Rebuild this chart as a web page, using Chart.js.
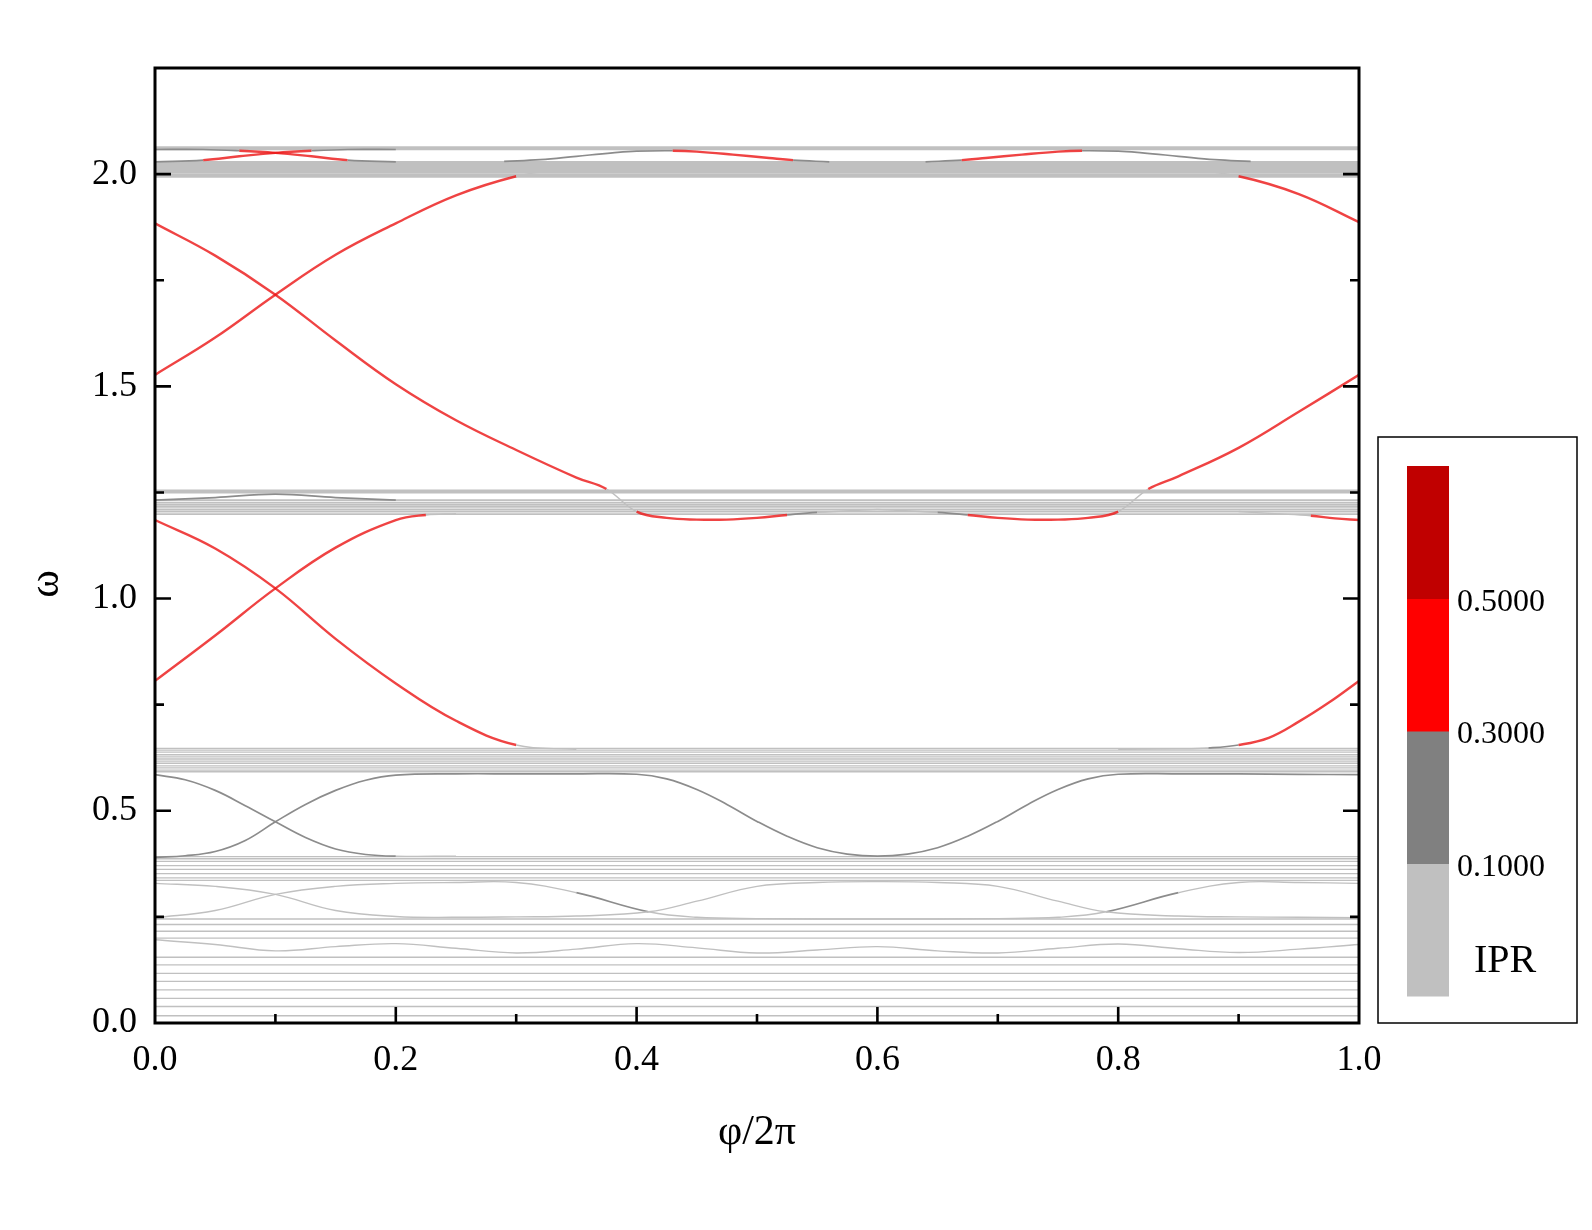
<!DOCTYPE html>
<html><head><meta charset="utf-8">
<script src="https://cdn.jsdelivr.net/npm/chart.js@4.4.1/dist/chart.umd.min.js"></script>
<style>html,body{margin:0;padding:0;background:#fff}canvas{display:block}</style>
</head><body>
<canvas id="c" width="1592" height="1230"></canvas>
<script>
// ---------------- data ----------------
const xTickLabels = ['0.0','0.2','0.4','0.6','0.8','1.0'];
const yTickLabels = ['0.0','0.5','1.0','1.5','2.0'];

// flat band levels (omega)
const thickLevels   = [2.061, 1.996, 1.252];
const topBandLevels = [2.028, 2.024, 2.020, 2.016, 2.012, 2.008, 2.004];
const band12Levels  = [1.232, 1.226, 1.221, 1.216, 1.210, 1.205, 1.199];
const band06Levels  = [0.647, 0.643, 0.638, 0.632, 0.627, 0.622, 0.617, 0.612, 0.606, 0.601, 0.596, 0.592];
const band04Levels  = [0.392, 0.387, 0.381, 0.371, 0.362, 0.352, 0.342, 0.336];
const lowBandLevels = [0.245, 0.232, 0.216, 0.200, 0.155, 0.137, 0.117, 0.098, 0.078, 0.058, 0.039, 0.017];

// IPR colour bar
const iprBounds = [0.1, 0.3, 0.5];
const iprLabels = ['0.1000', '0.3000', '0.5000'];
const iprColors = ['#C0C0C0', '#808080', '#FF0000', '#C00000'];

// curves: x, omega, IPR (IPR of segment starting at each point)
const curveA_x = [0,0.05,0.1,0.15,0.2,0.25,0.3,0.35,0.375,0.4,0.425,0.45,0.475,0.5,0.525,0.55,0.6];
const curveA_y = [1.884,1.808,1.716,1.608,1.505,1.420,1.350,1.285,1.258,1.205,1.190,1.186,1.186,1.190,1.197,1.203,1.210];
const curveA_i = [.4,.4,.4,.4,.4,.4,.4,.4,.05,.4,.4,.4,.4,.4,.2,.05,.05];

const curveC_x = [0.6,0.65,0.675,0.7,0.725,0.75,0.775,0.8,0.825,0.85,0.9,0.95,1.0];
const curveC_y = [1.210,1.203,1.197,1.190,1.186,1.186,1.190,1.205,1.258,1.288,1.355,1.440,1.527];
const curveC_i = [.05,.2,.4,.4,.4,.4,.4,.05,.4,.4,.4,.4,.4];

const curveB_x = [0,0.05,0.1,0.15,0.2,0.25,0.3,0.33];
const curveB_y = [1.527,1.615,1.716,1.810,1.884,1.950,1.995,2.008];
const curveB_i = [.4,.4,.4,.4,.4,.4,.05,.05];

const curveD_x = [0.85,0.9,0.95,1.0];
const curveD_y = [2.015,1.995,1.953,1.887];
const curveD_i = [.05,.4,.4,.4];

const topX1_x = [0,0.04,0.07,0.1,0.13,0.16,0.2];
const topX1_y = [2.058,2.058,2.055,2.050,2.042,2.033,2.029];
const topX1_i = [.2,.2,.4,.4,.4,.2,.2];
const topX2_x = [0,0.04,0.07,0.1,0.13,0.16,0.2];
const topX2_y = [2.029,2.033,2.042,2.050,2.055,2.058,2.058];
const topX2_i = [.2,.4,.4,.4,.2,.2,.2];

const hump1_x = [0.29,0.32,0.35,0.38,0.40,0.43,0.45,0.48,0.51,0.53,0.56];
const hump1_y = [2.030,2.034,2.042,2.050,2.054,2.055,2.053,2.046,2.038,2.033,2.029];
const hump1_i = [.2,.2,.2,.2,.2,.4,.4,.4,.4,.2,.2];
const hump2_x = [0.64,0.67,0.69,0.72,0.75,0.77,0.80,0.82,0.85,0.88,0.91];
const hump2_y = [2.029,2.033,2.038,2.046,2.053,2.055,2.054,2.050,2.042,2.034,2.030];
const hump2_i = [.2,.4,.4,.4,.4,.2,.2,.2,.2,.2,.2];

const curveE_x = [0,0.05,0.1,0.15,0.2,0.25,0.3,0.35];
const curveE_y = [1.185,1.118,1.024,0.905,0.800,0.712,0.655,0.645];
const curveE_i = [.4,.4,.4,.4,.4,.4,.05,.05];
const curveE2_x = [0.9,0.93,0.96,0.98,1.0];
const curveE2_y = [1.205,1.200,1.195,1.189,1.185];
const curveE2_i = [.05,.05,.4,.4,.4];

const curveF_x = [0,0.05,0.1,0.15,0.2,0.225,0.25];
const curveF_y = [0.806,0.913,1.024,1.120,1.185,1.197,1.200];
const curveF_i = [.4,.4,.4,.4,.4,.05,.05];
const curveF2_x = [0.8,0.85,0.875,0.9,0.925,0.95,0.975,1.0];
const curveF2_y = [0.645,0.646,0.648,0.655,0.672,0.710,0.755,0.806];
const curveF2_i = [.05,.05,.2,.4,.4,.4,.4,.4];

const humpJ_x = [0,0.05,0.1,0.15,0.2];
const humpJ_y = [1.232,1.238,1.246,1.238,1.232];
const humpJ_i = [.2,.2,.2,.2,.2];

const curveG_x = [0,0.025,0.05,0.075,0.1,0.125,0.15,0.175,0.2,0.25];
const curveG_y = [0.585,0.573,0.548,0.512,0.474,0.437,0.410,0.397,0.393,0.393];
const curveG_i = [.2,.2,.2,.2,.2,.2,.2,.2,.05,.05];

const curveH_x = [0,0.025,0.05,0.075,0.1,0.125,0.15,0.175,0.2,0.25,0.3,0.35,0.4,0.425,0.45,0.475,0.5,0.525,0.55,0.575,0.6,0.625,0.65,0.675,0.7,0.725,0.75,0.775,0.8,0.85,0.9,0.95,1.0];
const curveH_y = [0.390,0.394,0.404,0.430,0.474,0.515,0.548,0.572,0.584,0.587,0.587,0.587,0.586,0.575,0.550,0.515,0.475,0.440,0.413,0.398,0.393,0.398,0.413,0.440,0.475,0.515,0.550,0.575,0.586,0.587,0.587,0.586,0.585];
const curveH_i = [.2,.2,.2,.2,.2,.2,.2,.2,.2,.2,.2,.2,.2,.2,.2,.2,.2,.2,.2,.2,.2,.2,.2,.2,.2,.2,.2,.2,.2,.2,.2,.2,.2];

const curveU1_x = [0,0.05,0.1,0.15,0.2,0.25,0.3,0.35,0.41,0.45,0.5,0.55,0.6,0.65,0.7,0.75,0.79,0.85,0.9,0.95,1.0];
const curveU1_y = [0.329,0.322,0.303,0.265,0.251,0.249,0.250,0.252,0.262,0.287,0.322,0.331,0.333,0.331,0.322,0.287,0.262,0.252,0.250,0.249,0.248];
const curveU1_i = [.05,.05,.05,.05,.05,.05,.05,.05,.05,.05,.05,.05,.05,.05,.05,.05,.05,.05,.05,.05,.05];

const curveU2_x = [0,0.05,0.1,0.15,0.2,0.25,0.3,0.35,0.41,0.45,0.5,0.6,0.7,0.75,0.79,0.85,0.9,0.95,1.0];
const curveU2_y = [0.248,0.265,0.303,0.322,0.329,0.331,0.331,0.307,0.262,0.249,0.246,0.245,0.246,0.249,0.262,0.307,0.331,0.331,0.329];
const curveU2_i = [.05,.05,.05,.05,.05,.05,.05,.2,.05,.05,.05,.05,.05,.05,.2,.05,.05,.05,.05];

const wiggle_x = [0,0.05,0.1,0.15,0.2,0.25,0.3,0.35,0.4,0.45,0.5,0.55,0.6,0.65,0.7,0.75,0.8,0.85,0.9,0.95,1.0];
const wiggle_y = [0.196,0.185,0.170,0.180,0.187,0.176,0.165,0.174,0.187,0.177,0.165,0.172,0.180,0.170,0.165,0.176,0.186,0.175,0.166,0.174,0.185];
const wiggle_i = [.05,.05,.05,.05,.05,.05,.05,.05,.05,.05,.05,.05,.05,.05,.05,.05,.05,.05,.05,.05,.05];

// ---------------- helpers ----------------
const strokeColors = ['#C0C0C0', '#8C8C8C', 'rgba(235,20,20,0.8)', '#C00000'];
const strokeWidths = [1.4, 1.7, 2.4, 2.4];
function iprClass(v){ let k = 0; for (const b of iprBounds) if (v >= b) k++; return k; }

const datasets = [];
function addCurve(xs, ys, ipr, order){
  datasets.push({
    data: xs.map((x,i)=>({x, y: ys[i]})),
    borderColor: strokeColors[iprClass(ipr[0])],
    borderWidth: strokeWidths[iprClass(ipr[0])],
    segment: {
      borderColor: c => strokeColors[iprClass(ipr[c.p0DataIndex])],
      borderWidth: c => strokeWidths[iprClass(ipr[c.p0DataIndex])]
    },
    tension: 0.4,
    pointRadius: 0, fill: false, order: order
  });
}
function addLevels(levels, width, order){
  for (const v of levels) datasets.push({
    data: [{x:0, y:v}, {x:1, y:v}],
    borderColor: '#C0C0C0', borderWidth: width,
    pointRadius: 0, fill: false, order: order
  });
}

addCurve(curveA_x, curveA_y, curveA_i, 1);
addCurve(curveB_x, curveB_y, curveB_i, 1);
addCurve(curveC_x, curveC_y, curveC_i, 1);
addCurve(curveD_x, curveD_y, curveD_i, 1);
addCurve(curveE_x, curveE_y, curveE_i, 1);
addCurve(curveE2_x, curveE2_y, curveE2_i, 1);
addCurve(curveF_x, curveF_y, curveF_i, 1);
addCurve(curveF2_x, curveF2_y, curveF2_i, 1);
addCurve(topX1_x, topX1_y, topX1_i, 1);
addCurve(topX2_x, topX2_y, topX2_i, 1);
addCurve(hump1_x, hump1_y, hump1_i, 1);
addCurve(hump2_x, hump2_y, hump2_i, 1);
addCurve(humpJ_x, humpJ_y, humpJ_i, 2);
addCurve(curveG_x, curveG_y, curveG_i, 2);
addCurve(curveH_x, curveH_y, curveH_i, 2);
addCurve(curveU1_x, curveU1_y, curveU1_i, 3);
addCurve(curveU2_x, curveU2_y, curveU2_i, 3);
addCurve(wiggle_x, wiggle_y, wiggle_i, 3);
addLevels(thickLevels, 4, 5);
addLevels(topBandLevels, 2.6, 6);
addLevels(band12Levels, 1.9, 6);
addLevels(band06Levels, 1.3, 6);
addLevels(band04Levels, 1.3, 6);
addLevels(lowBandLevels, 1.4, 6);

// ---------------- plugins ----------------
const FONT = '"Liberation Serif", "Times New Roman", serif';
const framePlugin = {
  id: 'frame',
  afterDraw(chart){
    const {ctx, chartArea: a, scales: {x, y}} = chart;
    ctx.save();
    ctx.strokeStyle = '#000';
    ctx.lineWidth = 3;
    ctx.strokeRect(a.left, a.top, a.right - a.left, a.bottom - a.top);
    ctx.lineWidth = 2.6;
    const MAJ = 16, MIN = 9;
    const yv = y.ticks.map(t => t.value);
    const ystep = yv[1] - yv[0];
    const yMinor = [];
    for (let v = yv[0] + ystep/2; v < y.max - 1e-9; v += ystep) yMinor.push(v);
    const xv = x.ticks.map(t => t.value);
    const xstep = xv[1] - xv[0];
    const xMinor = [];
    for (let v = xv[0] + xstep/2; v < x.max - 1e-9; v += xstep) xMinor.push(v);
    ctx.beginPath();
    const yT = (v, L) => { const p = y.getPixelForValue(v);
      ctx.moveTo(a.left, p); ctx.lineTo(a.left + L, p);
      ctx.moveTo(a.right, p); ctx.lineTo(a.right - L, p); };
    yv.forEach(v => { if (v > y.min && v < y.max) yT(v, MAJ); });
    yMinor.forEach(v => yT(v, MIN));
    const xT = (v, L) => { const p = x.getPixelForValue(v);
      ctx.moveTo(p, a.bottom); ctx.lineTo(p, a.bottom - L); };
    xv.forEach(v => { if (v > x.min && v < x.max) xT(v, MAJ); });
    xMinor.forEach(v => xT(v, MIN));
    ctx.stroke();

    ctx.fillStyle = '#000';
    ctx.font = '42px ' + FONT;
    ctx.textAlign = 'center'; ctx.textBaseline = 'middle';
    ctx.translate(47, 584); ctx.rotate(-Math.PI/2);
    ctx.fillText('ω', 0, 0);
    ctx.restore();

    ctx.save();
    const bx = 1378, by = 437, bw = 199, bh = 586;
    ctx.strokeStyle = '#000'; ctx.lineWidth = 1.5;
    ctx.strokeRect(bx, by, bw, bh);
    const cx = 1407, cw = 42, ctop = 466, seg = 132.5;
    for (let k = 0; k < iprColors.length; k++){
      ctx.fillStyle = iprColors[k];
      ctx.fillRect(cx, ctop + seg*(iprColors.length - 1 - k), cw, seg + 0.5);
    }
    ctx.fillStyle = '#000';
    ctx.textAlign = 'left'; ctx.textBaseline = 'middle';
    ctx.font = '32px ' + FONT;
    iprLabels.forEach((t, k) => {
      const yy = ctop + seg*(iprColors.length - 1 - k);
      ctx.fillText(t, 1457, yy + 4);
    });
    ctx.font = '40px ' + FONT;
    ctx.fillText('IPR', 1474, 961);
    ctx.restore();
  }
};

Chart.defaults.font.family = FONT;
Chart.defaults.color = '#000';

new Chart(document.getElementById('c'), {
  type: 'line',
  data: { datasets },
  options: {
    responsive: false, animation: false, events: [],
    layout: { padding: { left: 0, top: 68, right: 233, bottom: 0 } },
    plugins: { legend: { display: false }, tooltip: { enabled: false } },
    scales: {
      x: {
        type: 'linear', min: 0, max: 1,
        grid: { display: false }, border: { display: false },
        ticks: { stepSize: 0.2, includeBounds: false, autoSkip: false, maxRotation: 0,
                 padding: 8, font: { size: 36, family: FONT }, color: '#000',
                 callback: (v, i) => xTickLabels[Math.round(v / 0.2)] },
        title: { display: true, text: 'φ/2π', font: { size: 42, family: FONT }, color: '#000',
                 padding: { top: 0, bottom: 72 } },
        afterFit: s => { s.height = 207; }
      },
      y: {
        type: 'linear', min: 0, max: 2.25,
        grid: { display: false }, border: { display: false },
        ticks: { stepSize: 0.5, includeBounds: false, autoSkip: false,
                 padding: 10, font: { size: 36, family: FONT }, color: '#000',
                 callback: (v, i) => yTickLabels[Math.round(v / 0.5)] },
        afterFit: s => { s.width = 155; }
      }
    }
  },
  plugins: [framePlugin]
});
</script>
</body></html>
